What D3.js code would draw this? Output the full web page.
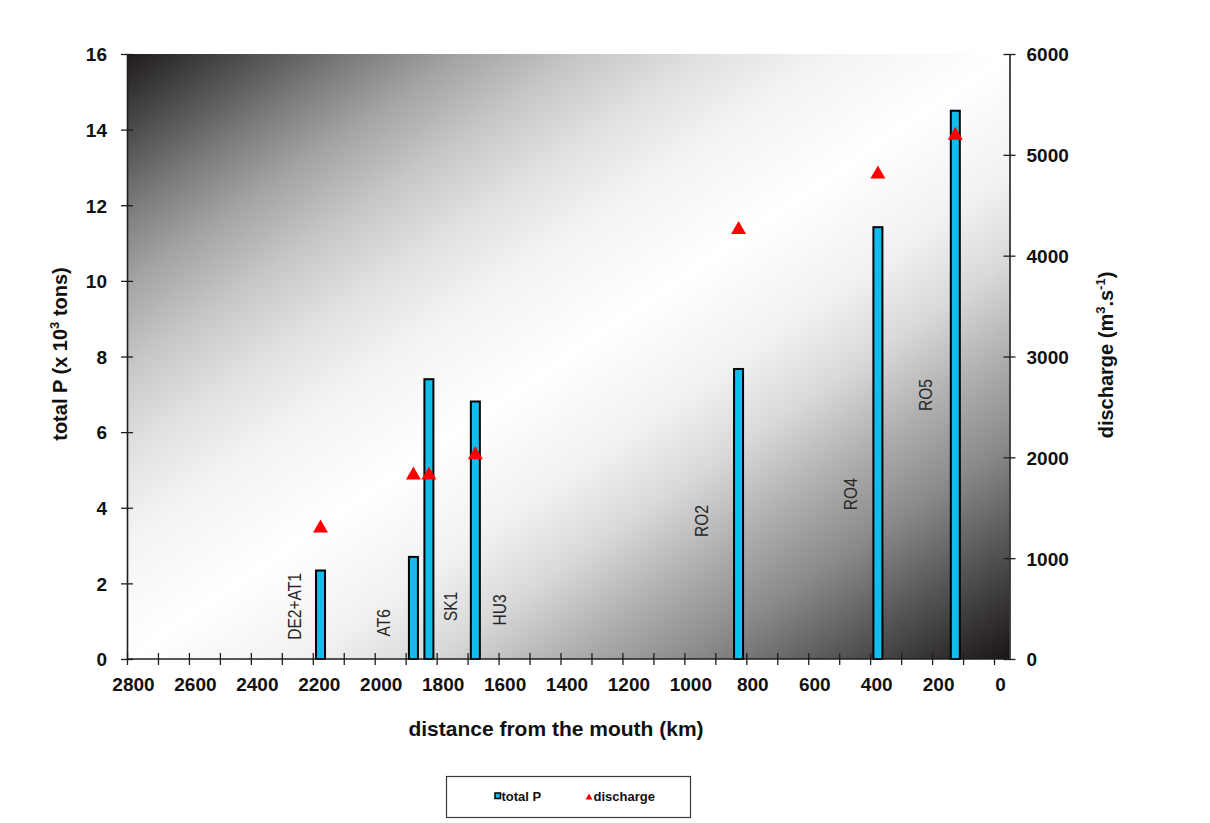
<!DOCTYPE html>
<html>
<head>
<meta charset="utf-8">
<script src="https://cdn.jsdelivr.net/npm/d3@7"></script>
<style>
  html, body { margin: 0; padding: 0; background: #ffffff; }
  svg { display: block; font-family: "Liberation Sans", Arial, sans-serif; }
</style>
</head>
<body>
<svg id="chart" width="1210" height="823"></svg>
<script>
// Sampling stations along the river
const stations   = ["DE2+AT1", "AT6", "SK1", "HU3", "RO2", "RO4", "RO5"];
// Distance from the mouth (km)
const distanceKm = [2175, 1875, 1825, 1675, 825, 375, 125];
// Total phosphorus load (x 10^3 tons)
const totalP     = [2.34, 2.70, 7.40, 6.81, 7.67, 11.42, 14.50];
// Discharge (m3/s)
const discharge  = [1320, 1845, 1845, 2045, 4280, 4830, 5215];

// Axis ticks
const xTicks      = d3.range(0, 2801, 100);
const yLeftTicks  = [0, 2, 4, 6, 8, 10, 12, 14, 16];
const yRightTicks = [0, 1000, 2000, 3000, 4000, 5000, 6000];

// Where each station name sits: horizontal shift (px) from its bar and
// the height (in total P units) of the label's centre
const labelLayout = [
  { dx: -26, p: 1.39 },
  { dx: -30, p: 0.96 },
  { dx:  21, p: 1.39 },
  { dx:  24, p: 1.30 },
  { dx: -37, p: 3.65 },
  { dx: -28, p: 4.36 },
  { dx: -30, p: 6.98 }
];

const plot = { left: 127, right: 1009.5, top: 54, bottom: 659 };

const svg = d3.select("#chart");

const x = d3.scaleLinear().domain([2800, -50]).range([plot.left, plot.right]);
const yP = d3.scaleLinear().domain([0, 16]).range([plot.bottom, plot.top]);
const yQ = d3.scaleLinear().domain([0, 6000]).range([plot.bottom, plot.top]);

// Plot-area background: dark corners fading to white along the other diagonal
const defs = svg.append("defs");
const grad = defs.append("linearGradient")
  .attr("id", "plotBg")
  .attr("x1", 0).attr("y1", 0).attr("x2", 1).attr("y2", 1);
const stops = [
  [0.00, "#1f1b1b"], [0.06, "#494747"], [0.13, "#7c7c7c"], [0.19, "#a4a4a4"],
  [0.26, "#c7c7c7"], [0.33, "#e1e1e1"], [0.40, "#f3f3f3"], [0.50, "#ffffff"],
  [0.60, "#f1f1f1"], [0.67, "#d9d9d9"], [0.75, "#adadad"], [0.82, "#8a8a8a"],
  [0.88, "#636363"], [0.94, "#3e3b3b"], [1.00, "#1a1616"]
];
stops.forEach(([o, c]) => grad.append("stop").attr("offset", o).attr("stop-color", c));

svg.append("rect")
  .attr("x", plot.left).attr("y", plot.top)
  .attr("width", plot.right - plot.left).attr("height", plot.bottom - plot.top)
  .attr("fill", "url(#plotBg)");

// Station labels (vertical, narrow)
const labelG = svg.append("g");
stations.forEach((name, i) => {
  const cx = x(distanceKm[i]) + labelLayout[i].dx;
  const cy = yP(labelLayout[i].p);
  labelG.append("text")
    .attr("transform", `translate(${cx},${cy}) rotate(-90) scale(0.82,1)`)
    .attr("text-anchor", "middle")
    .attr("dy", "0.36em")
    .attr("font-size", 19)
    .attr("fill", "#262626")
    .text(name);
});

// Total P bars
const barW = 9;
svg.append("g").selectAll("rect")
  .data(stations.map((s, i) => ({ km: distanceKm[i], p: totalP[i] })))
  .join("rect")
  .attr("x", d => x(d.km) - barW / 2)
  .attr("y", d => yP(d.p))
  .attr("width", barW)
  .attr("height", d => yP(0) - yP(d.p))
  .attr("fill", "#12bdee")
  .attr("stroke", "#000")
  .attr("stroke-width", 2);

// Discharge markers
const tri = (w, h) => `M0,${-h / 2}L${w / 2},${h / 2}L${-w / 2},${h / 2}Z`;
svg.append("g").selectAll("path")
  .data(stations.map((s, i) => ({ km: distanceKm[i], q: discharge[i] })))
  .join("path")
  .attr("transform", d => `translate(${x(d.km)},${yQ(d.q)})`)
  .attr("d", tri(15, 13))
  .attr("fill", "#ff0000");

// Axes
const axisColor = "#1e1e1e";
function styleAxis(g, crossLen, orient) {
  g.select(".domain").attr("stroke", axisColor).attr("stroke-width", 1.6);
  g.selectAll(".tick line").attr("stroke", axisColor).attr("stroke-width", 1.3);
  if (orient === "x") g.selectAll(".tick line").attr("y1", -crossLen).attr("y2", crossLen);
  else g.selectAll(".tick line").attr("x1", -crossLen).attr("x2", crossLen);
  g.selectAll(".tick text")
    .attr("fill", "#111")
    .attr("font-size", 19)
    .attr("font-weight", "bold")
    .attr("font-family", "\"Liberation Sans\", Arial, sans-serif");
}

const xAxis = d3.axisBottom(x)
  .tickValues(xTicks)
  .tickSize(6)
  .tickSizeOuter(0)
  .tickFormat(d => (d % 200 === 0 ? d : ""));
const gx = svg.append("g")
  .attr("transform", `translate(0,${plot.bottom})`)
  .call(xAxis);
gx.select(".domain").attr("d", `M${plot.left},0H${plot.right}`);
styleAxis(gx, 6, "x");
gx.selectAll(".tick text").attr("y", 19).attr("dx", 6).attr("dy", "0.71em");

const gyL = svg.append("g")
  .attr("transform", `translate(${plot.left},0)`)
  .call(d3.axisLeft(yP).tickValues(yLeftTicks).tickSize(6).tickSizeOuter(0).tickFormat(d3.format("d")));
styleAxis(gyL, 6, "y");
gyL.selectAll(".tick text").attr("x", -20).attr("dy", "0.36em");

const gyR = svg.append("g")
  .attr("transform", `translate(${plot.right},0)`)
  .call(d3.axisRight(yQ).tickValues(yRightTicks).tickSize(6).tickSizeOuter(0).tickFormat(d3.format("d")));
styleAxis(gyR, 6, "y");
gyR.selectAll(".tick text").attr("x", 17).attr("dy", "0.36em");

// Axis titles
const titleFont = { size: 20, weight: "bold", color: "#111" };

svg.append("text")
  .attr("x", 556).attr("y", 736)
  .attr("text-anchor", "middle")
  .attr("font-size", 21).attr("font-weight", titleFont.weight).attr("fill", titleFont.color)
  .text("distance from the mouth (km)");

const leftTitle = svg.append("text")
  .attr("transform", "translate(67,354) rotate(-90)")
  .attr("text-anchor", "middle")
  .attr("font-size", titleFont.size).attr("font-weight", titleFont.weight).attr("fill", titleFont.color);
leftTitle.append("tspan").text("total P (x 10");
leftTitle.append("tspan").attr("dy", -8).attr("font-size", 13).text("3");
leftTitle.append("tspan").attr("dy", 8).text(" tons)");

const rightTitle = svg.append("text")
  .attr("transform", "translate(1113,355) rotate(-90)")
  .attr("text-anchor", "middle")
  .attr("font-size", titleFont.size).attr("font-weight", titleFont.weight).attr("fill", titleFont.color);
rightTitle.append("tspan").text("discharge (m");
rightTitle.append("tspan").attr("dy", -8).attr("font-size", 13).text("3");
rightTitle.append("tspan").attr("dy", 8).text(".s");
rightTitle.append("tspan").attr("dy", -8).attr("font-size", 13).text("-1");
rightTitle.append("tspan").attr("dy", 8).text(")");

// Legend
const legend = svg.append("g");
legend.append("rect")
  .attr("x", 446.5).attr("y", 776.5).attr("width", 244).attr("height", 41)
  .attr("fill", "#fff").attr("stroke", "#3a3a3a").attr("stroke-width", 1.2);
legend.append("rect")
  .attr("x", 495).attr("y", 793).attr("width", 5.5).attr("height", 5.5)
  .attr("fill", "#12bdee").attr("stroke", "#000").attr("stroke-width", 1.5);
legend.append("text")
  .attr("x", 501.5).attr("y", 800.5)
  .attr("font-size", 13).attr("font-weight", "bold").attr("fill", "#111")
  .text("total P");
legend.append("path")
  .attr("transform", "translate(589,796.5)")
  .attr("d", tri(7, 6))
  .attr("fill", "#ff0000");
legend.append("text")
  .attr("x", 593.5).attr("y", 800.5)
  .attr("font-size", 13).attr("font-weight", "bold").attr("fill", "#111")
  .text("discharge");
</script>
</body>
</html>
